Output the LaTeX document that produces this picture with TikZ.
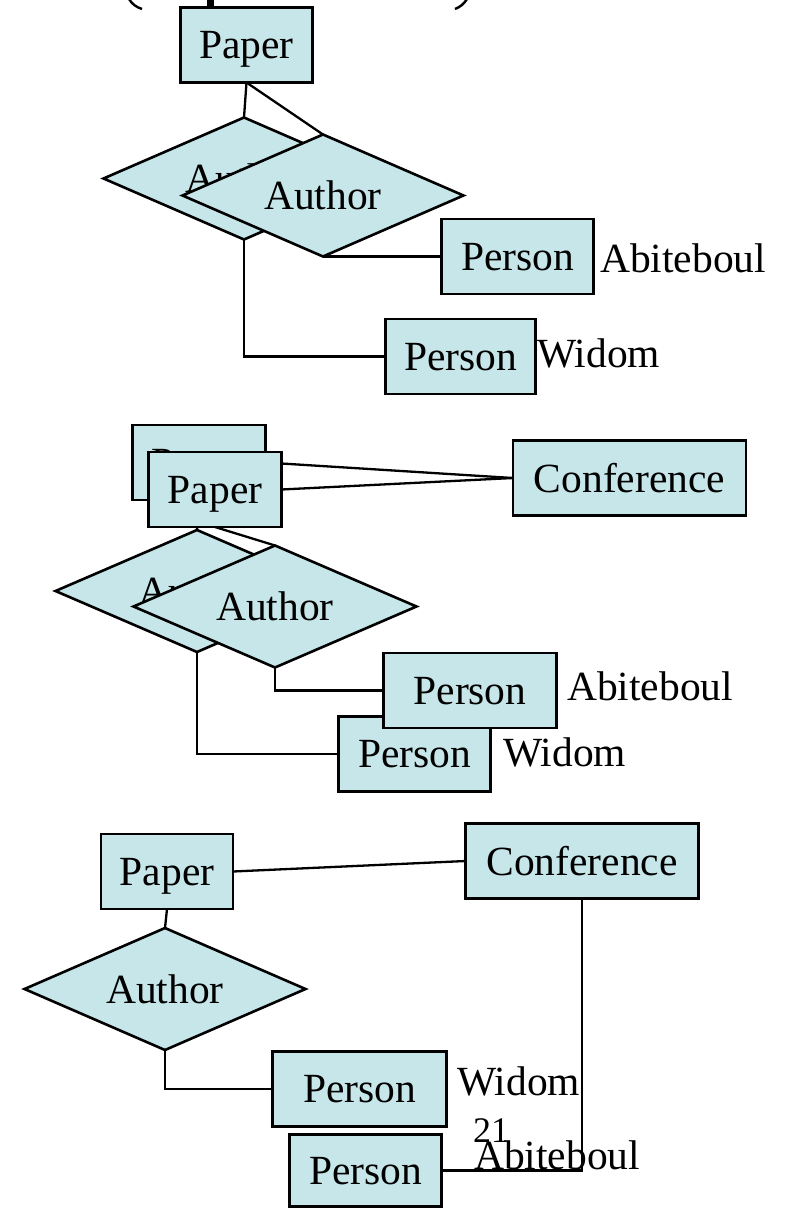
\documentclass[tikz,border=0pt]{standalone}
\usepackage{fontspec}
\setmainfont{Liberation Serif}
\usetikzlibrary{shapes.geometric}
\definecolor{erblue}{RGB}{199,230,233}
\tikzset{
  erfont/.style={font=\fontsize{41.5pt}{48pt}\selectfont},
  entity/.style={draw, fill=erblue, line width=2.6pt, erfont, minimum width=#1,
    minimum height=75pt, inner sep=0pt, outer sep=0pt, text depth=0pt},
  relship/.style={draw, fill=erblue, line width=2.6pt, erfont, diamond, aspect=2.3,
    minimum width=281pt, minimum height=122pt, inner sep=0pt, outer sep=0pt, text depth=0pt},
  attr/.style={anchor=base west, inner sep=0pt, erfont},
  link/.style={line width=2.3pt}
}
\begin{document}
\begin{tikzpicture}[x=1pt, y=-1pt]
  \useasboundingbox (0,0) rectangle (788,1210);

  % cut-off title
  \draw[line width=2.4pt] (129,-1) .. controls (132,4) and (136,7) .. (142,9);
  \draw[line width=2.4pt] (467,-1) .. controls (464,4) and (460,7) .. (455,9);
  \fill (207,0) rectangle (214,7);

  % first diagram
  \node[entity=132pt] (paperA) at (246.5,45) {Paper};
  \node[relship] (authA1) at (244,178.5) {Author};
  \node[relship] (authA2) at (323,195.5) {Author};
  \node[entity=152pt] (personA1) at (517.5,256.5) {Person};
  \node[entity=150pt] (personA2) at (460.5,356.5) {Person};
  \node[attr] (abitA) at (600,272) {Abiteboul};
  \node[attr] (widomA) at (537,367) {Widom};

  \draw[link] (paperA.south) -- (authA1.north);
  \draw[link] (paperA.south) -- (authA2.north);
  \draw[link] (authA2.south) -- (personA1.west);
  \draw[link] (authA1.south) |- (personA2.west);

  % second diagram
  \node[entity=233pt] (confB) at (629.5,478) {Conference};
  \node[entity=152pt] (personB2) at (414.5,754) {Person};
  \node[entity=133pt] (paperB1) at (199,462.5) {Paper};
  \node[relship, minimum width=283pt] (authB1) at (197,591) {Author};
  \draw[link] (paperB1.east) -- (confB.west);
  \draw[link] (paperB1.south) -- (authB1.north);
  \draw[link] (authB1.south) |- (personB2.west);

  \node[entity=133pt] (paperB2) at (215,489.5) {Paper};
  \node[relship, minimum width=283pt] (authB2) at (275,606.5) {Author};
  \draw[link] (paperB2.east) -- (confB.west);
  \draw[link] (paperB2.south) -- (authB2.north);
  \node[entity=173pt] (personB1) at (470,690.5) {Person};
  \draw[link] (authB2.south) |- (personB1.west);
  \node[attr] (abitB) at (567,700) {Abiteboul};
  \node[attr] (widomB) at (503,766) {Widom};

  % third diagram
  \node[entity=132pt] (paperC) at (167,871.5) {Paper};
  \node[entity=233pt] (confC) at (582,861) {Conference};
  \node[relship] (authC) at (165,989) {Author};
  \node[entity=174pt] (personC1) at (359.5,1089) {Person};
  \node[entity=152pt, minimum height=72pt] (personC2) at (365.5,1170.5) {Person};

  \draw[link] (paperC.east) -- (confC.west);
  \draw[link] (paperC.south) -- (authC.north);
  \draw[link] (authC.south) |- (personC1.west);
  \draw[link] (confC.south) |- (personC2.east);

  \node[attr] (widomC) at (457,1095) {Widom};
  \node[attr, font=\fontsize{36pt}{40pt}\selectfont] (pagenum) at (473,1142) {21};
  \node[attr] (abitC) at (474,1169) {Abiteboul};
\end{tikzpicture}
\end{document}
